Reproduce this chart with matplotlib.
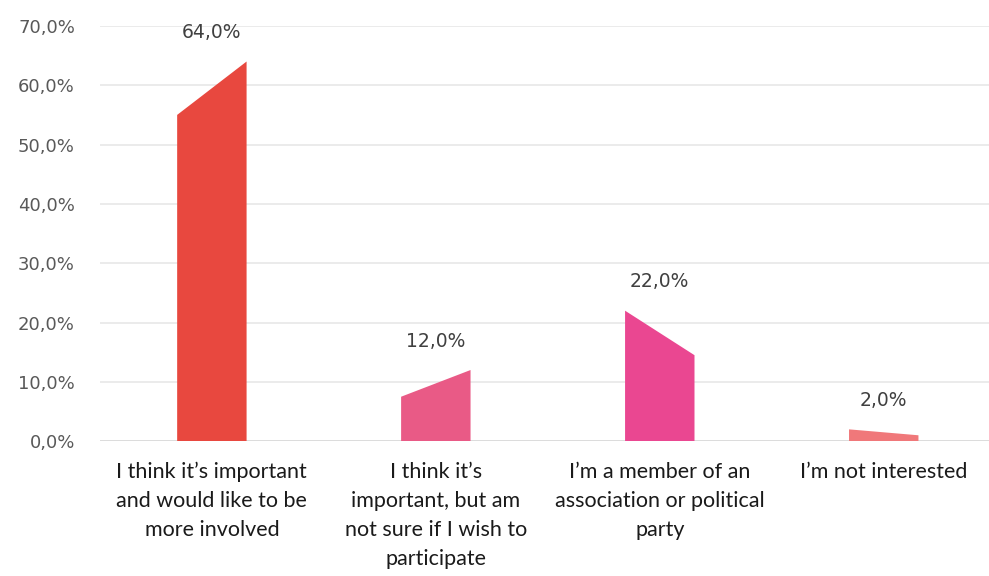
import matplotlib.pyplot as plt
from matplotlib.ticker import FuncFormatter

# survey answers and the two edge heights of each slanted column
categories = [
    "I think it\u2019s important\nand would like to be\nmore involved",
    "I think it\u2019s\nimportant, but am\nnot sure if I wish to\nparticipate",
    "I\u2019m a member of an\nassociation or political\nparty",
    "I\u2019m not interested",
]
values = [64.0, 12.0, 22.0, 2.0]
left_edge = [55.0, 7.5, 22.0, 2.0]
right_edge = [64.0, 12.0, 14.5, 1.0]
colors = ["#E8483F", "#E95A86", "#EA4791", "#F0787A"]

fig = plt.figure(figsize=(9.89, 5.76), dpi=100)
ax = fig.add_axes([0.101, 0.234, 0.899, 0.721])

bar_w = 0.31
for i, (l, r, c) in enumerate(zip(left_edge, right_edge, colors)):
    xs = [i - bar_w / 2, i - bar_w / 2, i + bar_w / 2, i + bar_w / 2]
    ys = [0, l, r, 0]
    ax.fill(xs, ys, color=c, lw=0, zorder=3)
    ax.annotate(f"{values[i]:.1f}%".replace(".", ","), (i, values[i]),
                xytext=(0, 29), textcoords="offset pixels",
                ha="center", va="center", fontsize=13.5, color="#404040")

ax.set_xlim(-0.5, 3.47)
ax.set_ylim(0, 70)
ax.set_yticks(range(0, 71, 10))
ax.yaxis.set_major_formatter(FuncFormatter(lambda v, _: f"{v:.1f}%".replace(".", ",")))
ax.grid(axis="y", color="#E6E6E6", lw=1.1, zorder=0)
ax.set_axisbelow(True)
ax.axhline(0, color="#DADADA", lw=1.2, zorder=1)

for s in ax.spines.values():
    s.set_visible(False)
ax.tick_params(axis="y", length=0, pad=18, labelsize=13, labelcolor="#595959")

ax.set_xticks(range(len(categories)))
ax.set_xticklabels(categories, fontsize=15.5, color="#1A1A1A", linespacing=1.56,
                   family="Lato")
ax.tick_params(axis="x", length=0, pad=15)

fig.savefig("out.png", dpi=100)
